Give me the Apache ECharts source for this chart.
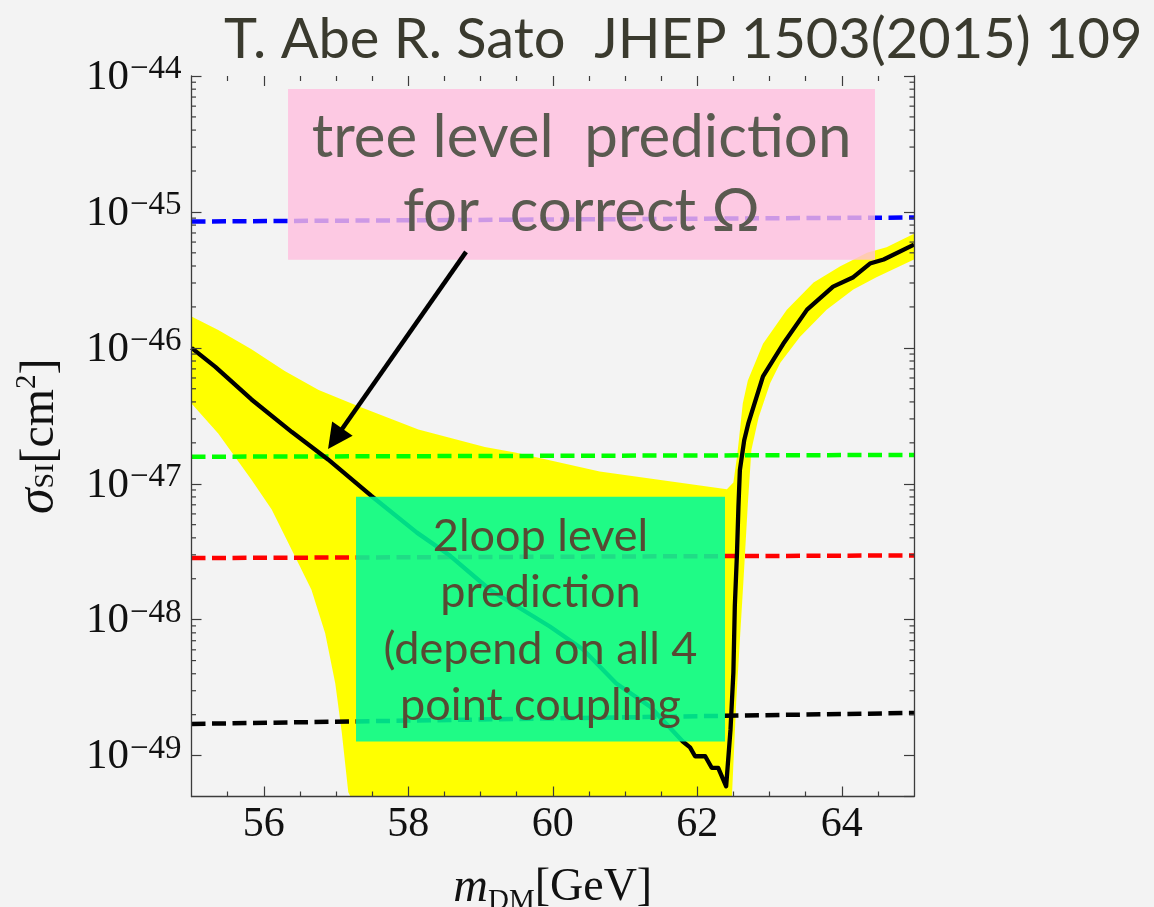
<!DOCTYPE html>
<html><head><meta charset="utf-8">
<script src="https://cdn.jsdelivr.net/npm/echarts@6/dist/echarts.min.js"></script>
<style>html,body{margin:0;padding:0;background:#f3f3f3;}#c{width:1154px;height:907px;}</style>
</head><body><div id="c"></div>
<script>
// ---------- data ----------
const titleText = 'T. Abe R. Sato  JHEP 1503(2015) 109';
const xMajorTicks = [56, 58, 60, 62, 64];
const xMinorTicks = [55.5, 56.5, 57, 57.5, 58.5, 59, 59.5, 60.5, 61, 61.5, 62.5, 63, 63.5, 64.5];
const yRange = [5e-50, 1e-44];            // cm^2
const yMinorTicks = [];
for (let e = -49; e <= -45; e++) for (let m = 2; m <= 9; m++) yMinorTicks.push(m * Math.pow(10, e));

// central prediction (solid black), sigma in cm^2
const centralX = [55.00, 55.33, 55.83, 56.39, 56.89, 57.49, 58.12, 58.58, 59.13, 59.96, 60.42, 60.88, 61.35, 61.80, 61.90, 61.97, 62.11, 62.20, 62.29, 62.40, 62.46, 62.50, 62.52, 62.55, 62.57, 62.59, 62.65, 62.71, 62.91, 63.19, 63.52, 63.88, 64.16, 64.39, 64.58, 65.00];
const centralY = [1.00e-46, 7.24e-47, 4.17e-47, 2.40e-47, 1.51e-47, 8.13e-48, 4.37e-48, 2.95e-48, 1.66e-48, 8.91e-49, 6.03e-49, 3.39e-49, 2.29e-49, 1.27e-49, 1.15e-49, 9.89e-50, 9.89e-50, 8.13e-50, 8.13e-50, 5.94e-50, 1.55e-49, 4.07e-49, 1.26e-48, 3.09e-48, 6.76e-48, 1.26e-47, 2.09e-47, 2.82e-47, 6.17e-47, 1.07e-46, 1.91e-46, 2.82e-46, 3.31e-46, 4.17e-46, 4.47e-46, 5.75e-46];

// yellow band: upper and lower edges (lower edge runs along the axis floor where it leaves the frame)
const bandUpperX = [55.00, 55.37, 55.83, 56.29, 56.76, 57.31, 58.14, 59.06, 59.48, 60.65, 62.41, 62.50, 62.55, 62.58, 62.63, 62.70, 62.91, 63.24, 63.61, 63.98, 64.35, 64.62, 65.00];
const bandUpperY = [1.70e-46, 1.35e-46, 9.77e-47, 6.76e-47, 4.90e-47, 3.72e-47, 2.51e-47, 1.86e-47, 1.70e-47, 1.23e-47, 9.12e-48, 1.02e-47, 1.58e-47, 2.19e-47, 3.89e-47, 5.75e-47, 1.07e-46, 1.91e-46, 3.02e-46, 3.98e-46, 5.01e-46, 5.50e-46, 6.92e-46];
const bandLowerX = [55.00, 55.37, 55.83, 56.11, 56.39, 56.66, 56.85, 56.99, 57.08, 57.17, 57.20, 62.48, 62.54, 62.59, 62.64, 62.70, 62.75, 62.85, 63.01, 63.15, 63.42, 63.79, 64.16, 64.48, 65.00];
const bandLowerY = [3.89e-47, 2.34e-47, 1.07e-47, 6.46e-48, 3.24e-48, 1.66e-48, 7.94e-49, 3.39e-49, 1.48e-49, 5.37e-50, 5.0e-50, 5.0e-50, 2.51e-49, 7.08e-49, 1.95e-48, 7.08e-48, 1.78e-47, 3.09e-47, 5.50e-47, 7.76e-47, 1.20e-46, 1.91e-46, 2.69e-46, 3.31e-46, 4.47e-46];

// dashed bounds
const blueX = [55, 65],  blueY = [8.5e-46, 9.1e-46];
const greenX = [55, 65], greenY = [1.58e-47, 1.63e-47];
const redX = [55, 65],   redY = [2.84e-48, 2.97e-48];
const blackX = [55, 65], blackY = [1.71e-49, 2.06e-49];

// annotation boxes [x0, y0, x1, y1] and their texts
const boxRanges = [[56.336, 4.44e-46, 64.46, 8.02e-45], [57.277, 1.27e-49, 62.384, 8.02e-48]];
const boxTexts = ['tree level  prediction\nfor  correct Ω', '2loop level\nprediction\n(depend on all 4\npoint coupling'];
const arrowFromTo = [58.80, 5.08e-46, 56.89, 1.80e-47];

// ---------- plotting unit (log axis works in units of 1e-50 cm^2 to avoid float rounding) ----------
const Y_UNIT = 1e-50, Y_UNIT_EXP = -50;
const u = v => v / Y_UNIT;

// ---------- styles ----------
const AX = '#3c3c3c';
const serif = 'Liberation Serif';
const sans = 'Lato';
const boxStyles = [
  {fill: 'rgba(255,190,222,0.8)', color: '#5a5a50', size: 60, lh: 74, dy: 0},
  {fill: 'rgba(0,250,152,0.88)', color: '#574a33', size: 45, lh: 56.3, dy: 2}
];

const pts = (xs, ys) => xs.map((x, i) => [x, u(ys[i])]);
const chart = echarts.init(document.getElementById('c'));

function xAx(pos, ticks, len, major) {
  const o = {
    type: 'value', position: pos, min: 55, max: 65, z: 10,
    axisLine: {show: major, onZero: false, lineStyle: {color: AX, width: 1.3}},
    axisTick: {show: true, inside: true, length: len, customValues: ticks, lineStyle: {color: AX, width: 1.2}},
    axisLabel: {show: false}, splitLine: {show: false}
  };
  if (major && pos === 'bottom') {
    o.axisLabel = {show: true, customValues: ticks, margin: 7, fontSize: 42, fontFamily: serif, color: '#111'};
    o.name = '{i|m}{sub|DM}{n|[GeV]}';
    o.nameLocation = 'middle';
    o.nameGap = 68;
    o.nameMoveOverlap = false;
    o.nameTextStyle = {color: '#111', rich: {
      i: {fontSize: 48, fontFamily: serif, fontStyle: 'italic', color: '#111', lineHeight: 48, verticalAlign: 'top'},
      sub: {fontSize: 29, fontFamily: serif, color: '#111', lineHeight: 29, padding: [22, 0, 0, 0], verticalAlign: 'top'},
      n: {fontSize: 46, fontFamily: serif, color: '#111', lineHeight: 48, verticalAlign: 'top'}
    }};
  }
  return o;
}
function yAx(pos, major) {
  const o = {
    type: 'log', logBase: 10, position: pos, min: u(yRange[0]), max: u(yRange[1]), z: 10,
    axisLine: {show: true, onZero: false, lineStyle: {color: AX, width: 1.3}},
    axisTick: {show: true, inside: true, length: 10, lineStyle: {color: AX, width: 1.2}},
    axisLabel: {show: false}, splitLine: {show: false}, minorTick: {show: false}
  };
  if (major) {
    o.axisLabel = {show: true, showMinLabel: false, margin: 10, color: '#111',
      formatter: v => {
        const e = Math.log10(v);
        if (!isFinite(e) || Math.abs(e - Math.round(e)) > 1e-6) return '';
        return '{b|10}{s|−' + (-(Math.round(e) + Y_UNIT_EXP)) + '}';
      },
      rich: {
        b: {fontSize: 43, fontFamily: serif, color: '#111', lineHeight: 46, verticalAlign: 'bottom'},
        s: {fontSize: 33, fontFamily: serif, color: '#111', lineHeight: 30, padding: [0, 0, 0, 1], verticalAlign: 'top'}
      }};
    o.name = '{i|σ}{sub|SI}{n|[cm}{sup|2}{n|]}';
    o.nameLocation = 'middle';
    o.nameRotate = 90;
    o.nameGap = 127;
    o.nameMoveOverlap = false;
    o.nameTextStyle = {color: '#111', rich: {
      i: {fontSize: 52, fontFamily: serif, fontStyle: 'italic', color: '#111', lineHeight: 52, verticalAlign: 'bottom'},
      sub: {fontSize: 28, fontFamily: serif, color: '#111', lineHeight: 28, padding: [0, 0, 5, 0], verticalAlign: 'bottom'},
      n: {fontSize: 48, fontFamily: serif, color: '#111', lineHeight: 52, verticalAlign: 'bottom'},
      sup: {fontSize: 29, fontFamily: serif, color: '#111', lineHeight: 29, verticalAlign: 'top'}
    }};
  }
  return o;
}

function dashed(xs, ys, color) {
  return {type: 'line', data: pts(xs, ys), symbol: 'none', z: 2, silent: true,
    lineStyle: {color: color, width: 4.5, type: [14, 6.5]}};
}

chart.setOption({
  backgroundColor: '#f3f3f3',
  animation: false,
  title: {text: titleText, left: 219, top: 7,
    textStyle: {fontSize: 56, fontFamily: sans, fontWeight: 'normal', color: '#3a3a2e'}},
  grid: {left: 191.5, top: 76, right: 240, bottom: 110.5, containLabel: false, outerBoundsMode: 'none'},
  xAxis: [xAx('bottom', xMajorTicks, 10, true), xAx('bottom', xMinorTicks, 5, false),
          xAx('top', xMajorTicks, 10, false), xAx('top', xMinorTicks, 5, false)],
  yAxis: [yAx('left', true), yAx('right', false)],
  series: [
    {type: 'custom', z: 1, silent: true, data: [[bandUpperX[0], u(bandUpperY[0])]],
      renderItem: (params, api) => {
        const up = pts(bandUpperX, bandUpperY).map(p => api.coord(p));
        const lo = pts(bandLowerX, bandLowerY).map(p => api.coord(p)).reverse();
        const cs = params.coordSys;
        return {type: 'polygon', shape: {points: up.concat(lo)}, style: {fill: '#ffff00'},
          clipPath: {type: 'rect', shape: {x: cs.x, y: cs.y, width: cs.width, height: cs.height}}};
      }},
    dashed(blueX, blueY, '#0000ff'),
    dashed(greenX, greenY, '#00ff00'),
    dashed(redX, redY, '#ff0000'),
    dashed(blackX, blackY, '#000000'),
    {type: 'line', data: pts(centralX, centralY), symbol: 'none', z: 3, silent: true,
      lineStyle: {color: '#000', width: 4.3, join: 'round'}},
    {type: 'custom', z: 4, silent: true, data: boxRanges.map(b => [b[0], u(b[1]), b[2], u(b[3])]), encode: {x: [0, 2], y: [1, 3]},
      renderItem: (params, api) => {
        const a = api.coord([api.value(0), api.value(1)]);
        const b = api.coord([api.value(2), api.value(3)]);
        const st = boxStyles[params.dataIndex];
        const x = Math.min(a[0], b[0]), y = Math.min(a[1], b[1]);
        const w = Math.abs(b[0] - a[0]), h = Math.abs(b[1] - a[1]);
        return {type: 'group', children: [
          {type: 'rect', shape: {x: x, y: y, width: w, height: h}, style: {fill: st.fill}},
          {type: 'text', style: {text: boxTexts[params.dataIndex], x: x + w / 2, y: y + h / 2 + st.dy,
            fill: st.color, fontSize: st.size, fontFamily: sans, align: 'center', verticalAlign: 'middle', lineHeight: st.lh}}
        ]};
      }},
    {type: 'custom', z: 5, silent: true, data: [[arrowFromTo[0], u(arrowFromTo[1]), arrowFromTo[2], u(arrowFromTo[3])]], encode: {x: [0, 2], y: [1, 3]},
      renderItem: (params, api) => {
        const a = api.coord([api.value(0), api.value(1)]);
        const b = api.coord([api.value(2), api.value(3)]);
        const dx = b[0] - a[0], dy = b[1] - a[1], len = Math.hypot(dx, dy);
        const ux = dx / len, uy = dy / len, L = 25, W = 12.5;
        const base = [b[0] - ux * L, b[1] - uy * L];
        return {type: 'group', children: [
          {type: 'line', shape: {x1: a[0], y1: a[1], x2: base[0] + ux * 3, y2: base[1] + uy * 3}, style: {stroke: '#000', lineWidth: 4.5}},
          {type: 'polygon', shape: {points: [b, [base[0] - uy * W, base[1] + ux * W], [base[0] + uy * W, base[1] - ux * W]]}, style: {fill: '#000'}}
        ]};
      }},
    // minor ticks of the log axis, on both frame sides
    {type: 'custom', z: 6, silent: true, data: yMinorTicks.map(v => [55, u(v)]),
      renderItem: (params, api) => {
        const p = api.coord([api.value(0), api.value(1)]);
        const cs = params.coordSys;
        const s = {stroke: AX, lineWidth: 1.2};
        return {type: 'group', children: [
          {type: 'line', shape: {x1: cs.x, y1: p[1], x2: cs.x + 4.5, y2: p[1]}, style: s},
          {type: 'line', shape: {x1: cs.x + cs.width - 4.5, y1: p[1], x2: cs.x + cs.width, y2: p[1]}, style: s}
        ]};
      }}
  ]
});
</script></body></html>
